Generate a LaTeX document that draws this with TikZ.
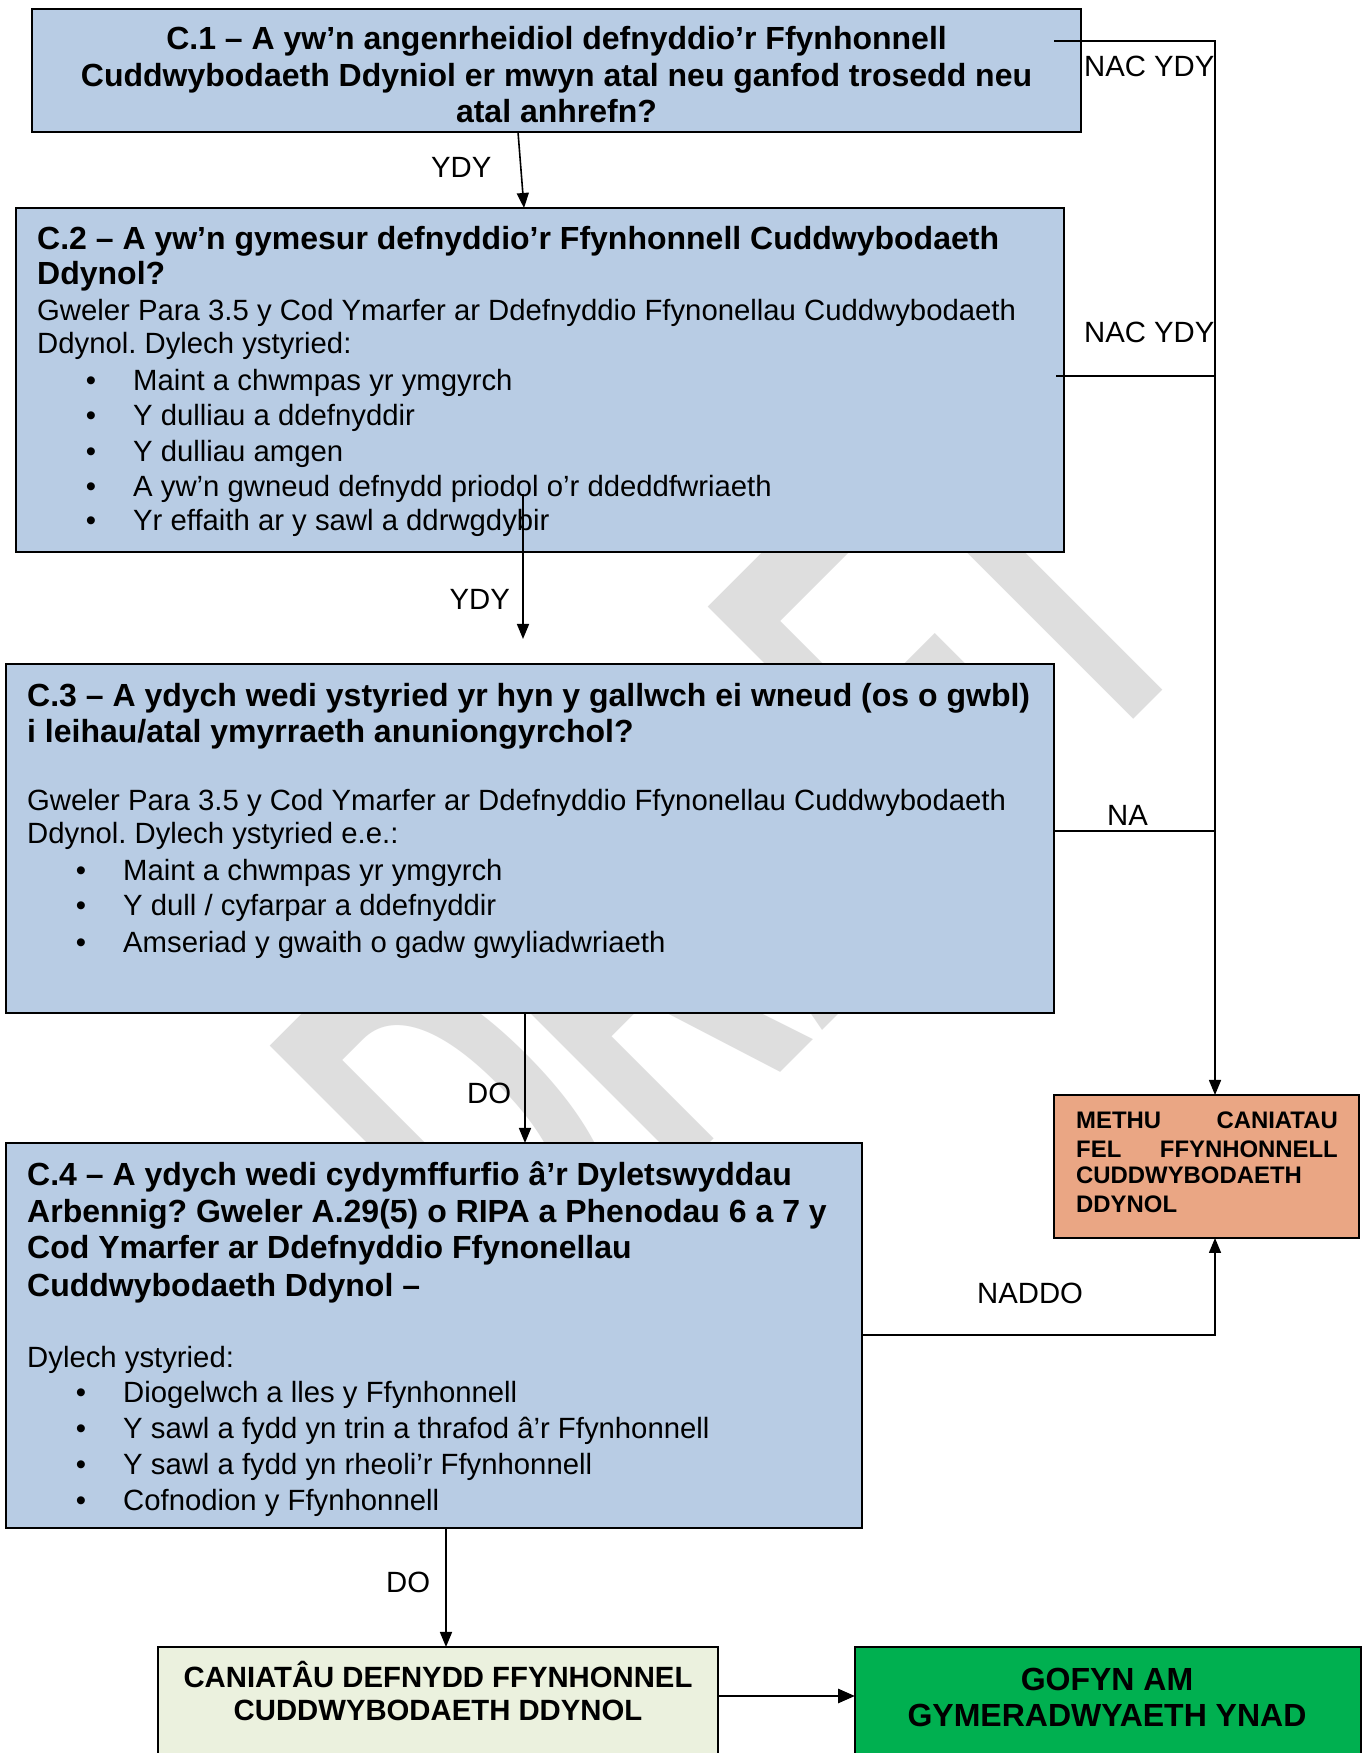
\documentclass[tikz,border=0pt]{standalone}
\usepackage{fontspec}
\usepackage{graphicx}
\setmainfont{Liberation Sans}
\usetikzlibrary{arrows.meta,calc}
\definecolor{boxblue}{RGB}{184,204,228}
\definecolor{salmon}{RGB}{234,166,132}
\definecolor{palegreen}{RGB}{235,241,222}
\definecolor{okgreen}{RGB}{0,176,80}
\definecolor{wmgray}{RGB}{222,222,222}
\newcommand\myhd{\fontsize{32}{37}\selectfont\bfseries}
\newcommand\mybd{\fontsize{29.3}{34}\selectfont}
\newcommand\mysm{\fontsize{23.9}{28}\selectfont\bfseries}
\tikzset{
  bbox/.style={draw=black, line width=1.6pt, inner sep=0pt, outer sep=0pt, anchor=north west},
  hd/.style={font=\myhd, inner sep=0pt, anchor=base west},
  hdc/.style={font=\myhd, inner sep=0pt, anchor=base},
  bd/.style={font=\mybd, inner sep=0pt, anchor=base west},
  bul/.style={font=\mybd, inner sep=0pt, anchor=base},
  sm/.style={font=\mysm, inner sep=0pt, anchor=base west},
  sme/.style={font=\mysm, inner sep=0pt, anchor=base east},
  conn/.style={line width=1.6pt, -{Triangle[length=15pt,width=12pt]}},
  bigconn/.style={line width=2.8pt, -{Triangle[length=17pt,width=14pt]}},
  plain/.style={line width=1.6pt},
}
\newcommand\mybullet[5]{%
  \node[bul] (#1b) at (#2,#4) {\textbullet};
  \node[bd] (#1) at (#3,#4) {#5};}
\begin{document}
\frenchspacing
\begin{tikzpicture}[x=1pt,y=1pt]
\useasboundingbox (0,0) rectangle (1363,1753);
\fill[white] (0,0) rectangle (1363,1753);
% watermark
\node[rotate=45, anchor=south west, inner sep=0pt, outer sep=0pt, text=wmgray] (wmark) at (525,425)
  {\resizebox{969pt}{380pt}{\bfseries DRAFT}};
% boxes
\node[bbox, fill=boxblue, minimum width=1049pt, minimum height=123pt] (c1) at (32,1744) {};
\node[bbox, fill=boxblue, minimum width=1048pt, minimum height=344pt] (c2) at (16,1545) {};
\node[bbox, fill=boxblue, minimum width=1048pt, minimum height=349pt] (c3) at (6,1089) {};
\node[bbox, fill=boxblue, minimum width=856pt, minimum height=385pt] (c4) at (6,610) {};
\node[bbox, fill=salmon, minimum width=305pt, minimum height=143pt] (fail) at (1054,658) {};
\node[bbox, fill=palegreen, minimum width=560pt, minimum height=130pt] (allow) at (158,106) {};
\node[bbox, fill=okgreen, minimum width=506pt, minimum height=130pt] (judge) at (855,106) {};
% C.1 text
\node[hdc] (c1a) at (556.5,1703.9) {C.1 – A yw’n angenrheidiol defnyddio’r Ffynhonnell};
\node[hdc] (c1b) at (556.5,1666.9) {Cuddwybodaeth Ddyniol er mwyn atal neu ganfod trosedd neu};
\node[hdc] (c1c) at (556.5,1630.4) {atal anhrefn?};
% C.2 text
\node[hd] (c2a) at (37,1503.2) {C.2 – A yw’n gymesur defnyddio’r Ffynhonnell Cuddwybodaeth};
\node[hd] (c2b) at (37,1468.2) {Ddynol?};
\node[bd] (c2c) at (37,1432.6) {Gweler Para 3.5 y Cod Ymarfer ar Ddefnyddio Ffynonellau Cuddwybodaeth};
\node[bd] (c2d) at (37,1399.1) {Ddynol. Dylech ystyried:};
\mybullet{c2e}{91}{133}{1362.8}{Maint a chwmpas yr ymgyrch}
\mybullet{c2f}{91}{133}{1327.3}{Y dulliau a ddefnyddir}
\mybullet{c2g}{91}{133}{1291.8}{Y dulliau amgen}
\mybullet{c2h}{91}{133}{1256.3}{A yw’n gwneud defnydd priodol o’r ddeddfwriaeth}
\mybullet{c2i}{91}{133}{1222.4}{Yr effaith ar y sawl a ddrwgdybir}
% C.3 text
\node[hd] (c3a) at (27,1046.8) {C.3 – A ydych wedi ystyried yr hyn y gallwch ei wneud (os o gwbl)};
\node[hd] (c3b) at (27,1010.3) {i leihau/atal ymyrraeth anuniongyrchol?};
\node[bd] (c3c) at (27,942.8) {Gweler Para 3.5 y Cod Ymarfer ar Ddefnyddio Ffynonellau Cuddwybodaeth};
\node[bd] (c3d) at (27,909.3) {Ddynol. Dylech ystyried e.e.:};
\mybullet{c3e}{81}{123}{872.8}{Maint a chwmpas yr ymgyrch}
\mybullet{c3f}{81}{123}{837.3}{Y dull / cyfarpar a ddefnyddir}
\mybullet{c3g}{81}{123}{800.6}{Amseriad y gwaith o gadw gwyliadwriaeth}
% C.4 text
\node[hd] (c4a) at (27,567.6) {C.4 – A ydych wedi cydymffurfio â’r Dyletswyddau};
\node[hd] (c4b) at (27,530.6) {Arbennig? Gweler A.29(5) o RIPA a Phenodau 6 a 7 y};
\node[hd] (c4c) at (27,494.8) {Cod Ymarfer ar Ddefnyddio Ffynonellau};
\node[hd] (c4d) at (27,456.6) {Cuddwybodaeth Ddynol –};
\node[bd] (c4e) at (27,385.6) {Dylech ystyried:};
\mybullet{c4f}{81}{123}{350.3}{Diogelwch a lles y Ffynhonnell}
\mybullet{c4g}{81}{123}{314.3}{Y sawl a fydd yn trin a thrafod â’r Ffynhonnell}
\mybullet{c4h}{81}{123}{278.8}{Y sawl a fydd yn rheoli’r Ffynhonnell}
\mybullet{c4i}{81}{123}{242.8}{Cofnodion y Ffynhonnell}
% fail box text
\node[sm] (f1a) at (1076,624.1) {METHU};
\node[sme] (f1b) at (1338,624.1) {CANIATAU};
\node[sm] (f2a) at (1076,595.8) {FEL};
\node[sme] (f2b) at (1338,595.8) {FFYNHONNELL};
\node[sm] (f3) at (1076,569.2) {CUDDWYBODAETH};
\node[sm] (f4) at (1076,540.2) {DDYNOL};
% bottom boxes text
\node[font=\fontsize{29.3}{34}\selectfont\bfseries, inner sep=0pt, anchor=base] (a1) at (438,65.8) {CANIATÂU DEFNYDD FFYNHONNEL};
\node[font=\fontsize{29.3}{34}\selectfont\bfseries, inner sep=0pt, anchor=base] (a2) at (438,32.4) {CUDDWYBODAETH DDYNOL};
\node[hdc] (j1) at (1107,62.5) {GOFYN AM};
\node[hdc] (j2) at (1107,26.6) {GYMERADWYAETH YNAD};
% labels
\node[bd] (l1) at (1084,1676.5) {NAC YDY};
\node[bd] (l2) at (1084,1410.5) {NAC YDY};
\node[bd] (l3) at (1107,927.5) {NA};
\node[bd] (l4) at (977,449.9) {NADDO};
\node[bd] (l5) at (431,1575) {YDY};
\node[bd] (l6) at (449.5,1143) {YDY};
\node[bd] (l7) at (467,649) {DO};
\node[bd] (l8) at (386,160) {DO};
% coordinates
\coordinate (bus) at (1215,0);
\coordinate (s1) at (1054,1712);
\coordinate (s2) at (1056,1377);
\coordinate (s3) at (1054,922);
\coordinate (s4) at (862,418);
\coordinate (d2s) at (523,1259);
\coordinate (d2e) at (523,1114);
\coordinate (x3) at (525,0);
\coordinate (x4) at (446,0);
\coordinate (y5) at (0,57);
% connectors
\draw[conn] ($(c1.south west)+(486,0)$) -- ($(c2.north west)+(508,0)$);
\draw[conn] (d2s) -- (d2e);
\draw[conn] (x3 |- c3.south) -- (x3 |- c4.north);
\draw[conn] (x4 |- c4.south) -- (x4 |- allow.north);
\draw[bigconn] (allow.east |- y5) -- (judge.west |- y5);
\draw[conn] (s1) -- (bus |- s1) -- (bus |- fail.north);
\draw[plain] (s2) -- (bus |- s2);
\draw[plain] (c3.east |- s3) -- (bus |- s3);
\draw[conn] (c4.east |- s4) -- (bus |- s4) -- (bus |- fail.south);
\end{tikzpicture}
\end{document}
